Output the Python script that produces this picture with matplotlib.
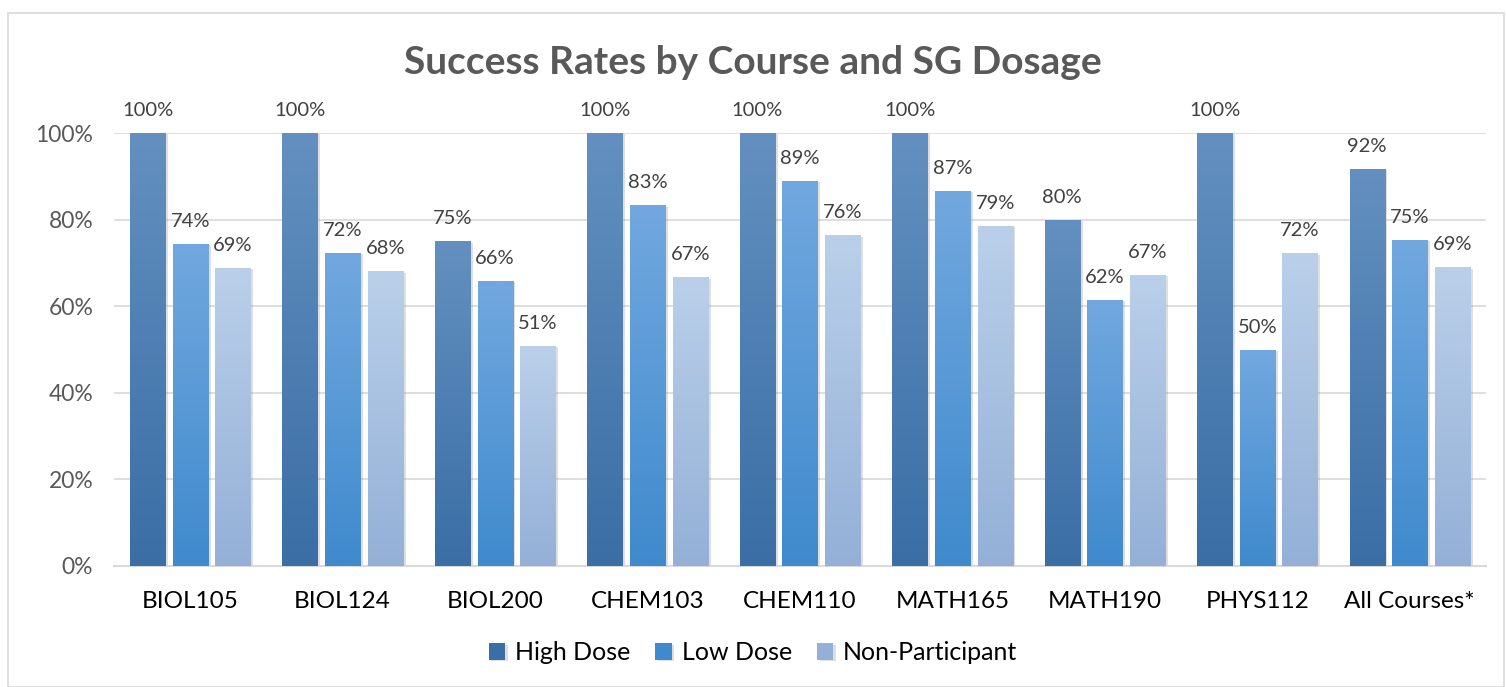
import numpy as np
import matplotlib
matplotlib.use("Agg")
import matplotlib.pyplot as plt
import matplotlib.patheffects as pe
from matplotlib.colors import LinearSegmentedColormap
from matplotlib.patches import Rectangle

courses = ['BIOL105', 'BIOL124', 'BIOL200', 'CHEM103', 'CHEM110',
           'MATH165', 'MATH190', 'PHYS112', 'All Courses*']
high_dose = [100, 100, 75, 100, 100, 100, 80, 100, 91.7]
low_dose = [74.4, 72.3, 65.8, 83.3, 89.0, 86.7, 61.5, 50.0, 75.4]
non_part = [68.9, 68.1, 50.8, 66.7, 76.4, 78.6, 67.2, 72.2, 69.0]
series_names = ['High Dose', 'Low Dose', 'Non-Participant']

# top / bottom colours of the gradient
grads = [('#6390c0', '#3a6ea5'), ('#72a8df', '#3f8acd'), ('#bad0ea', '#94b0d7')]

plt.rcParams['font.family'] = ['Lato', 'DejaVu Sans']

fig = plt.figure(figsize=(15.06, 6.87), dpi=100)
fig.patches.append(Rectangle((8 / 1506, 0), 1 - 8 / 1506 - 2 / 1506, 1 - 13 / 687,
                             transform=fig.transFigure, fill=False,
                             edgecolor='#d9d9d9', linewidth=1.2))
ax = fig.add_axes([114 / 1506, (687 - 566) / 687, 1372 / 1506, 433 / 687])

x = np.arange(len(courses))
width = 0.23
step = 0.28
grad_img = np.linspace(1, 0, 256).reshape(-1, 1)

for i, (vals, name) in enumerate(zip([high_dose, low_dose, non_part], series_names)):
    top, bot = grads[i]
    cmap = LinearSegmentedColormap.from_list(name, [bot, top])
    bars = ax.bar(x + (i - 1) * step, vals, width, color=bot, label=name, zorder=2,
                  path_effects=[pe.SimplePatchShadow(offset=(2, -1), alpha=0.25,
                                                     shadow_rgbFace='#808080'),
                                pe.Normal()])
    for b, v in zip(bars, vals):
        x0, w, h = b.get_x(), b.get_width(), b.get_height()
        im = ax.imshow(grad_img, cmap=cmap, extent=(x0, x0 + w, 0, h),
                       aspect='auto', zorder=3, vmin=0, vmax=1)
        im.set_clip_path(b)
        ax.annotate(f'{round(v):.0f}%', (x0 + w / 2, h), xytext=(0, 10),
                    textcoords='offset points', ha='center', va='bottom',
                    fontsize=14.5, color='#404040', annotation_clip=False)

ax.set_xlim(-0.5, len(courses) - 0.5)
ax.set_ylim(0, 100)
ax.set_yticks(range(0, 101, 20))
ax.set_yticklabels([f'{t}%' for t in range(0, 101, 20)])
ax.set_xticks(x)
ax.set_xticklabels(courses)
ax.tick_params(axis='both', length=0, labelsize=17.5, colors='#000000')
ax.tick_params(axis='y', labelcolor='#595959', labelsize=16.5, pad=15)
ax.tick_params(axis='x', pad=18)
ax.grid(axis='y', color='#d9d9d9', linewidth=1.2, zorder=0)
ax.set_axisbelow(True)
for s in ['top', 'right', 'left']:
    ax.spines[s].set_visible(False)
ax.spines['bottom'].set_color('#d9d9d9')
ax.spines['bottom'].set_linewidth(1.5)

fig.suptitle('Success Rates by Course and SG Dosage', fontsize=28, fontweight='bold',
             color='#595959', y=1 - 62 / 687, va='center')

handles, labels = ax.get_legend_handles_labels()
fig.legend(handles, labels, loc='center', bbox_to_anchor=(0.5, 1 - 653 / 687),
           ncol=3, frameon=False, fontsize=18, handlelength=0.65, handleheight=0.65,
           columnspacing=1.0, handletextpad=0.4)

fig.savefig('out.png', dpi=100)
